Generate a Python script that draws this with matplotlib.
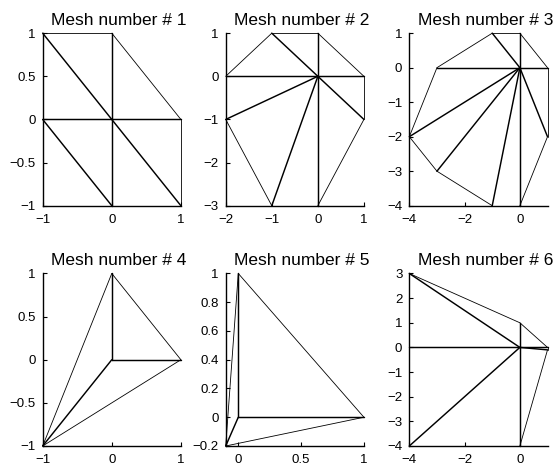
import numpy as np
import matplotlib.pyplot as plt
from matplotlib.ticker import FuncFormatter

plt.rcParams['font.family'] = ['Liberation Sans', 'DejaVu Sans']

# mesh vertices (x, y) and triangles (vertex indices)
p1 = [(-1, 1), (0, 1), (-1, 0), (0, 0), (1, 0), (-1, -1), (0, -1), (1, -1)]
t1 = [(0, 1, 3), (0, 3, 2), (1, 4, 3), (2, 3, 6), (2, 6, 5), (3, 4, 7), (3, 7, 6)]

p2 = [(0, 0), (0, 1), (-1, 1), (-2, 0), (-2, -1), (-1, -3), (0, -3), (1, -1), (1, 0)]
t2 = [(0, 1, 2), (0, 2, 3), (0, 3, 4), (0, 4, 5), (0, 5, 6), (0, 6, 7), (0, 7, 8), (0, 8, 1)]

p3 = [(0, 0), (0, 1), (-1, 1), (-3, 0), (-4, -2), (-3, -3), (-1, -4), (0, -4), (1, -2), (1, 0)]
t3 = [(0, 1, 2), (0, 2, 3), (0, 3, 4), (0, 4, 5), (0, 5, 6), (0, 6, 7), (0, 7, 8), (0, 8, 9), (0, 9, 1)]

p4 = [(0, 1), (0, 0), (1, 0), (-1, -1)]
t4 = [(0, 1, 3), (0, 2, 1), (1, 2, 3)]

p5 = [(0, 1), (0, 0), (1, 0), (-0.1, -0.2)]
t5 = [(0, 1, 3), (0, 2, 1), (1, 2, 3)]

p6 = [(-4, 3), (0, 1), (-4, 0), (0, 0), (1, 0), (1, -0.1), (-4, -4), (0, -4)]
t6 = [(0, 3, 1), (0, 2, 3), (2, 6, 3), (6, 7, 3), (1, 3, 4), (3, 5, 4), (3, 7, 5)]

meshes = [(p1, t1), (p2, t2), (p3, t3), (p4, t4), (p5, t5), (p6, t6)]

xlims = [(-1, 1), (-2, 1), (-4, 1), (-1, 1), (-0.1, 1), (-4, 1)]
ylims = [(-1, 1), (-3, 1), (-4, 1), (-1, 1), (-0.2, 1), (-4, 3)]
xticks = [[-1, 0, 1], [-2, -1, 0, 1], [-4, -2, 0], [-1, 0, 1], [0, 0.5, 1], [-4, -2, 0]]
yticks = [[-1, -0.5, 0, 0.5, 1], [-3, -2, -1, 0, 1], [-4, -3, -2, -1, 0, 1],
          [-1, -0.5, 0, 0.5, 1], [-0.2, 0, 0.2, 0.4, 0.6, 0.8, 1], [-4, -3, -2, -1, 0, 1, 2, 3]]

fmt = FuncFormatter(lambda v, pos: ('%g' % v).replace('-', '\u2212'))

fig = plt.figure(figsize=(5.55, 4.72), dpi=100)
lefts = [0.0769, 0.4067, 0.7375]
bottoms = [0.5642, 0.0551]

for k, (pts, tris) in enumerate(meshes):
    r, c = divmod(k, 3)
    ax = fig.add_axes([lefts[c], bottoms[r], 0.249, 0.3655])
    pts = np.array(pts, dtype=float)
    # count how many triangles share each edge
    edges = {}
    for tri in tris:
        for a, b in [(tri[0], tri[1]), (tri[1], tri[2]), (tri[2], tri[0])]:
            e = (min(a, b), max(a, b))
            edges[e] = edges.get(e, 0) + 1
    for (a, b), n in edges.items():
        lw = 1.05 if n > 1 else 0.6
        ax.plot(pts[[a, b], 0], pts[[a, b], 1], color='black', lw=lw,
                solid_capstyle='round', clip_on=False)
    ax.set_xlim(xlims[k])
    ax.set_ylim(ylims[k])
    ax.set_xticks(xticks[k])
    ax.set_yticks(yticks[k])
    ax.xaxis.set_major_formatter(fmt)
    ax.yaxis.set_major_formatter(fmt)
    ax.spines['top'].set_visible(False)
    ax.spines['right'].set_visible(False)
    for s in ['left', 'bottom']:
        ax.spines[s].set_linewidth(1.0)
    ax.tick_params(direction='in', length=3, width=0.8, labelsize=9.5)
    ax.tick_params(axis='x', pad=6)
    ax.tick_params(axis='y', pad=5)
    ax.set_title('Mesh number # %d' % (k + 1), fontsize=12.5, x=0.55, pad=6)

fig.savefig('out.png', dpi=100)
